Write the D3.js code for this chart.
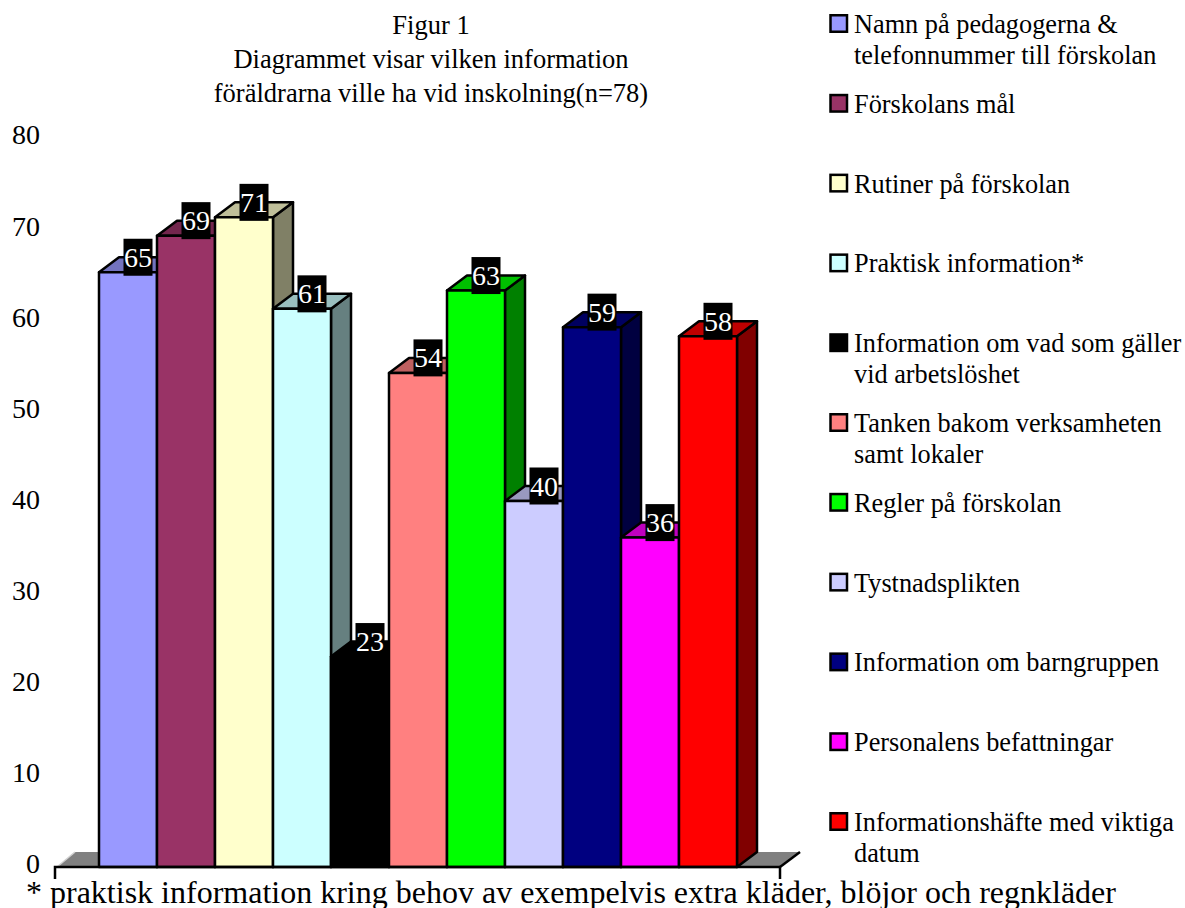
<!DOCTYPE html>
<html><head><meta charset="utf-8">
<script src="https://cdn.jsdelivr.net/npm/d3@7"></script>
<style>html,body{margin:0;padding:0;background:#fff}svg{display:block}text{font-family:"Liberation Serif","Times New Roman",serif}</style>
</head><body><svg id="c" width="1185" height="908"></svg>
<script>
const categories=[["Namn på pedagogerna &","telefonnummer till förskolan"],["Förskolans mål"],["Rutiner på förskolan"],["Praktisk information*"],["Information om vad som gäller","vid arbetslöshet"],["Tanken bakom verksamheten","samt lokaler"],["Regler på förskolan"],["Tystnadsplikten"],["Information om barngruppen"],["Personalens befattningar"],["Informationshäfte med viktiga","datum"]];
const values=[65,69,71,61,23,54,63,40,59,36,58];
const colors=["#9999FF","#993366","#FFFFCC","#CCFFFF","#000000","#FF8080","#00FF00","#CCCCFF","#000080","#FF00FF","#FF0000"];
const yTicks=[0,10,20,30,40,50,60,70,80];
const titleLines=["Figur 1","Diagrammet visar vilken information","föräldrarna ville ha vid inskolning(n=78)"];
const footnote="* praktisk information kring behov av exempelvis extra kläder, blöjor och regnkläder";

const svg=d3.select("#c");
const dx=20,dy=-15;
const x=d3.scaleBand().domain(d3.range(values.length)).range([99,737]).padding(0);
const y=d3.scaleLinear().domain([0,80]).range([867,135]);
const yLabel=d3.scaleLinear().domain([0,80]).range([864,135]);
const base=y(0);
const shade=(c,k)=>{const r=d3.color(c);return d3.rgb(r.r*k,r.g*k,r.b*k);};

// floor
const fl=[55,780];
svg.append("path").attr("d",`M${fl[0]+2},${base}L${fl[0]+dx},${base+dy}H${fl[1]+dx}L${fl[1]},${base}Z`).attr("fill","#808080");
svg.append("path").attr("d",`M${fl[0]+2},${base}L${fl[0]+dx},${base+dy}`).attr("stroke","#d0d0d0").attr("stroke-width",1.5).attr("fill","none");
svg.append("path").attr("d",`M${fl[1]},${base}L${fl[1]+dx},${base+dy}`).attr("stroke","#000").attr("stroke-width",2.5).attr("fill","none");

// bars
const g=svg.selectAll("g.bar").data(values).join("g").attr("class","bar");
const st=s=>s.attr("stroke","#000").attr("stroke-width",2.5).attr("stroke-linejoin","round");
g.append("path").attr("d",(d,i)=>{const r=x(i)+x.bandwidth();return `M${r},${y(d)}l${dx},${dy}V${base+dy}L${r},${base}Z`;})
 .attr("fill",(d,i)=>shade(colors[i],.5)).call(st);
g.append("path").attr("d",(d,i)=>{const l=x(i),w=x.bandwidth();return `M${l},${y(d)}l${dx},${dy}h${w}l${-dx},${-dy}Z`;})
 .attr("fill",(d,i)=>shade(colors[i],.75)).call(st);
g.append("rect").attr("x",(d,i)=>x(i)).attr("y",d=>y(d)).attr("width",x.bandwidth()).attr("height",d=>base-y(d))
 .attr("fill",(d,i)=>colors[i]).call(st);

// axis line
svg.append("path").attr("d",`M${fl[0]},${base+12}V${base}H${fl[1]}V${base+12}`).attr("fill","none").attr("stroke","#000").attr("stroke-width",2.5);

// y axis labels
const ax=svg.append("g").attr("transform","translate(40,0)").call(d3.axisLeft(yLabel).tickValues(yTicks).tickSize(0).tickPadding(0));
ax.select(".domain").remove();
ax.selectAll("text").attr("font-size",28).attr("font-family","Liberation Serif").attr("fill","#000");

// data labels
const lab=svg.selectAll("g.lab").data(values).join("g").attr("class","lab")
 .attr("transform",(d,i)=>`translate(${x(i)+x.bandwidth()/2+dx/2},${y(d)+dy})`);
lab.append("rect").attr("x",-14.5).attr("y",-18.5).attr("width",29).attr("height",37).attr("fill","#000");
lab.append("text").attr("text-anchor","middle").attr("y",9.5).attr("font-size",28).attr("fill","#fff").text(d=>d);

// title
svg.append("g").selectAll("text").data(titleLines).join("text")
 .attr("x",431).attr("y",(d,i)=>33.5+i*34).attr("text-anchor","middle").attr("font-size",26.5).attr("fill","#000").text(d=>d);

// legend
const ly=d3.scaleLinear().domain([0,10]).range([33,831]);
const leg=svg.selectAll("g.leg").data(categories).join("g").attr("class","leg").attr("transform",(d,i)=>`translate(0,${ly(i)})`);
leg.append("rect").attr("x",830.5).attr("y",-17.75).attr("width",16.5).attr("height",16.5).attr("fill",(d,i)=>colors[i]).attr("stroke","#000").attr("stroke-width",2.5);
leg.append("text").attr("font-size",26.3).attr("fill","#000").selectAll("tspan").data(d=>d).join("tspan")
 .attr("x",854).attr("y",(d,i)=>i*31).text(d=>d);

// footnote
svg.append("text").attr("x",26).attr("y",903).attr("font-size",32).attr("fill","#000").text(footnote);
</script></body></html>
